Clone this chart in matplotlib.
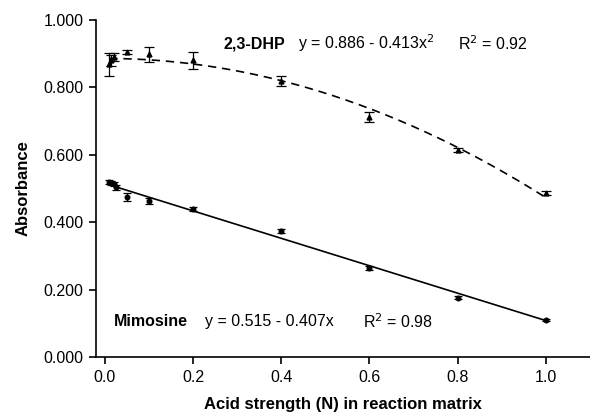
import numpy as np
import matplotlib
matplotlib.use("Agg")
import matplotlib.pyplot as plt

plt.rcParams['font.family'] = ['Liberation Sans', 'DejaVu Sans']

# Mimosine measurements
mim_x = [0.01, 0.015, 0.02, 0.025, 0.05, 0.1, 0.2, 0.4, 0.6, 0.8, 1.0]
mim_y = [0.518, 0.516, 0.512, 0.503, 0.474, 0.463, 0.440, 0.374, 0.264, 0.176, 0.110]
mim_err = [0.006, 0.006, 0.006, 0.008, 0.012, 0.010, 0.006, 0.005, 0.005, 0.005, 0.003]

# 2,3-DHP measurements
dhp_x = [0.01, 0.015, 0.02, 0.05, 0.1, 0.2, 0.4, 0.6, 0.8, 1.0]
dhp_y = [0.868, 0.880, 0.890, 0.905, 0.898, 0.880, 0.820, 0.712, 0.613, 0.487]
dhp_err = [0.035, 0.016, 0.012, 0.005, 0.022, 0.024, 0.015, 0.015, 0.006, 0.006]

# Fitted models
mim_a, mim_b, mim_r2 = 0.515, 0.407, 0.98
dhp_a, dhp_b, dhp_r2 = 0.886, 0.413, 0.92

x_ticks = [0.0, 0.2, 0.4, 0.6, 0.8, 1.0]
y_ticks = [0.0, 0.2, 0.4, 0.6, 0.8, 1.0]

fig = plt.figure(figsize=(5.9, 4.17), dpi=100)
ax = fig.add_axes([96/590, 60/417, 494/590, 337/417])

xf = np.linspace(0.01, 1.0, 200)
ax.plot(xf, mim_a - mim_b * xf, color='black', lw=1.2)
ax.plot(xf, dhp_a - dhp_b * xf**2, color='black', lw=1.2, ls=(0, (5, 3.5)))

ax.errorbar(mim_x, mim_y, yerr=mim_err, fmt='o', ms=3.3, color='black',
            ecolor='black', elinewidth=0.9, capsize=3, capthick=0.9)
ax.errorbar(dhp_x, dhp_y, yerr=dhp_err, fmt='^', ms=3.5, color='black',
            ecolor='black', elinewidth=0.9, capsize=3.5, capthick=0.9)

ax.set_xlim(-0.02, 1.10)
ax.set_ylim(0.0, 1.0)
ax.set_xticks(x_ticks)
ax.set_xticklabels([f"{v:.1f}" for v in x_ticks])
ax.set_yticks(y_ticks)
ax.set_yticklabels([f"{v:.3f}" for v in y_ticks])
ax.tick_params(direction='out', length=5, width=1.2, labelsize=11.5, pad=4)

for s in ['top', 'right']:
    ax.spines[s].set_visible(False)
for s in ['left', 'bottom']:
    ax.spines[s].set_linewidth(1.2)

ax.set_xlabel('Acid strength (N) in reaction matrix', fontsize=12,
              fontweight='bold', labelpad=9)
ax.set_ylabel('Absorbance', fontsize=12, fontweight='bold', labelpad=9)

# Fit annotations
fs = 11.5
ax.text(0.268, 0.93, '2,3-DHP', fontsize=fs, fontweight='bold', va='center')
ax.text(0.437, 0.93, f'y = {dhp_a:.3f} - {dhp_b:.3f}x$^2$', fontsize=fs, va='center')
ax.text(0.800, 0.93, f'R$^2$ = {dhp_r2:.2f}', fontsize=fs, va='center')

ax.text(0.020, 0.104, 'Mimosine', fontsize=fs, fontweight='bold', va='center')
ax.text(0.227, 0.104, f'y = {mim_a:.3f} - {mim_b:.3f}x', fontsize=fs, va='center')
ax.text(0.585, 0.104, f'R$^2$ = {mim_r2:.2f}', fontsize=fs, va='center')

fig.savefig('out.png', dpi=100)
